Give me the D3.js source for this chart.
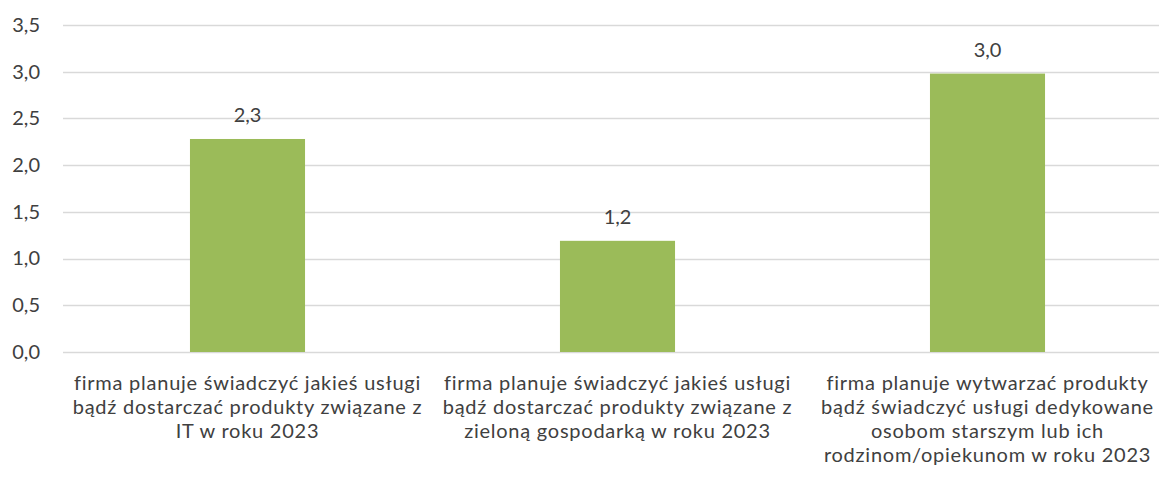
<!DOCTYPE html>
<html>
<head>
<meta charset="utf-8">
<script src="https://cdn.jsdelivr.net/npm/d3@7"></script>
<style>
  body { margin: 0; background: #fff; }
  svg text { font-family: Lato, "Open Sans", sans-serif; fill: #404040; }
</style>
</head>
<body>
<div id="chart"></div>
<script>
// data
var categories = [
  ["firma planuje świadczyć jakieś usługi", "bądź dostarczać produkty związane z", "IT w roku 2023"],
  ["firma planuje świadczyć jakieś usługi", "bądź dostarczać produkty związane z", "zieloną gospodarką w roku 2023"],
  ["firma planuje wytwarzać produkty", "bądź świadczyć usługi dedykowane", "osobom starszym lub ich", "rodzinom/opiekunom w roku 2023"]
];
var values = [2.28, 1.19, 2.98];
var yTicks = [0, 0.5, 1, 1.5, 2, 2.5, 3, 3.5];

var width = 1159, height = 484;
var fmt = function(v) { return v.toFixed(1).replace(".", ","); };

var svg = d3.select("#chart").append("svg")
  .attr("width", width)
  .attr("height", height);

var x = d3.scaleBand()
  .domain(d3.range(categories.length))
  .range([62.5, 1172.5])
  .padding(0);

var y = d3.scaleLinear()
  .domain([0, 3.5])
  .range([352, 25]);

// grid lines
svg.append("g").selectAll("line")
  .data(yTicks)
  .enter().append("line")
  .attr("x1", 63)
  .attr("x2", width)
  .attr("y1", function(d) { return Math.round(y(d)) + 0.5; })
  .attr("y2", function(d) { return Math.round(y(d)) + 0.5; })
  .attr("stroke", "#d9d9d9")
  .attr("stroke-width", 1.5);

// y axis labels
var yAxis = svg.append("g")
  .attr("transform", "translate(40,0)")
  .call(d3.axisLeft(y).tickValues(yTicks).tickFormat(fmt).tickSize(0).tickPadding(0));
yAxis.select(".domain").remove();
yAxis.attr("font-family", null).attr("font-size", null);
yAxis.selectAll("text")
  .attr("font-size", "20px")
  .attr("fill", null);

var barW = x.bandwidth() * 0.311;

svg.append("g").selectAll("rect")
  .data(values)
  .enter().append("rect")
  .attr("x", function(d, i) { return x(i) + x.bandwidth() / 2 - barW / 2; })
  .attr("y", function(d) { return y(d); })
  .attr("width", barW)
  .attr("height", function(d) { return y(0) - y(d); })
  .attr("fill", "#9bbb59");

// value labels
svg.append("g").selectAll("text")
  .data(values)
  .enter().append("text")
  .attr("x", function(d, i) { return x(i) + x.bandwidth() / 2; })
  .attr("y", function(d) { return y(d) - 17; })
  .attr("text-anchor", "middle")
  .attr("font-size", "20px")
  .text(function(d) { return fmt(d); });

// category labels
var cat = svg.append("g").selectAll("text")
  .data(categories)
  .enter().append("text")
  .attr("text-anchor", "middle")
  .attr("font-size", "20px")
  .attr("letter-spacing", "0.75px");

cat.selectAll("tspan")
  .data(function(d, i) { return d.map(function(t) { return { t: t, i: i }; }); })
  .enter().append("tspan")
  .attr("x", function(d) { return x(d.i) + x.bandwidth() / 2; })
  .attr("y", function(d, j) { return 390 + j * 24; })
  .text(function(d) { return d.t; });
</script>
</body>
</html>
